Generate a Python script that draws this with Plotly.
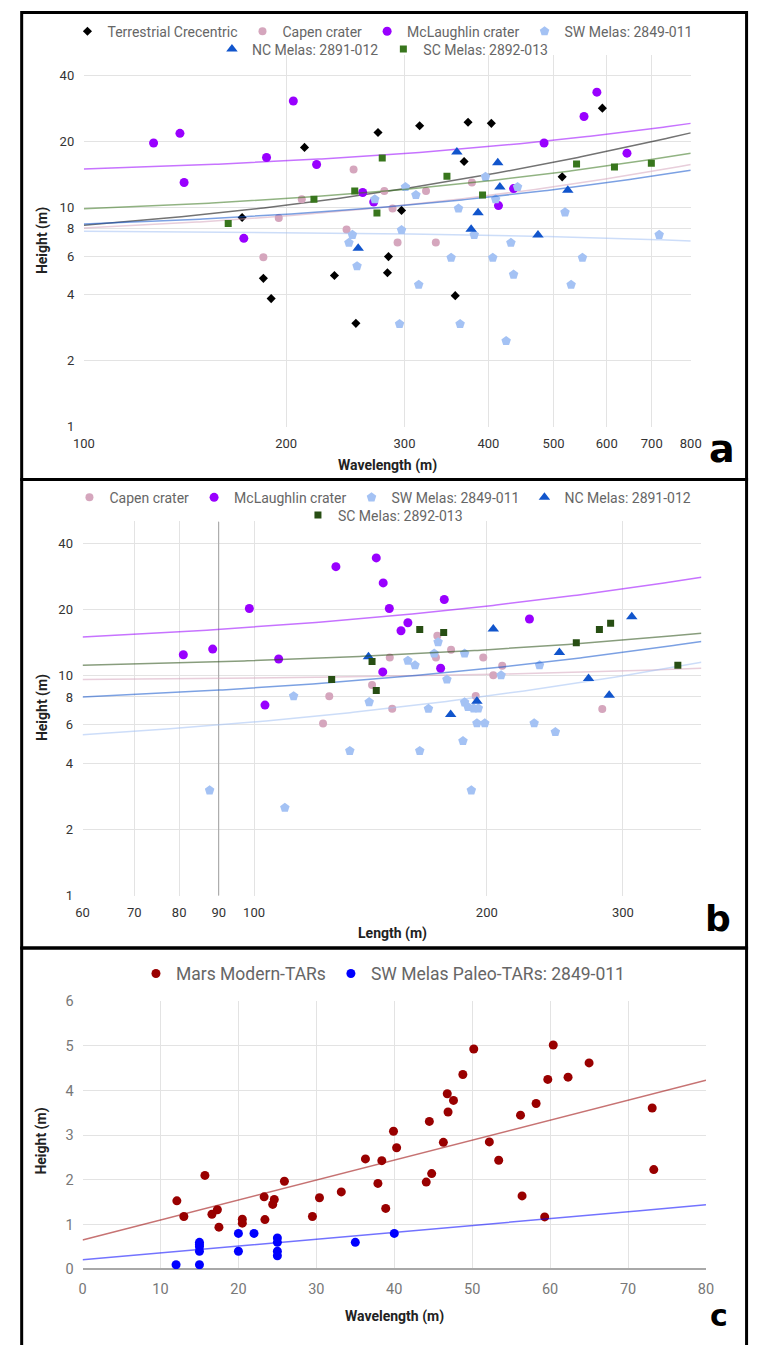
import numpy as np
import plotly.graph_objects as go

W, H = 760, 1345

# ---------------- Panel a : Height vs Wavelength (log-log) ----------------
a_terr_x = [213, 274, 316, 373, 404, 591, 368, 515, 297, 172, 185, 190, 236, 254, 284, 283, 357]
a_terr_y = [18.8, 22.0, 23.6, 24.5, 24.2, 28.4, 16.2, 13.8, 9.7, 9.0, 4.75, 3.84, 4.89, 2.96, 5.97, 5.04, 3.96]
a_capen_x = [252, 211, 195, 246, 280, 323, 288, 378, 293, 334, 185]
a_capen_y = [14.9, 10.9, 8.95, 7.94, 11.9, 11.9, 9.9, 13.0, 6.93, 6.93, 5.93]
a_mcl_x = [127, 139, 141, 205, 187, 222, 260, 270, 173, 484, 555, 580, 643, 414, 436]
a_mcl_y = [19.7, 21.8, 13.0, 30.6, 16.9, 15.7, 11.7, 10.6, 7.23, 19.7, 26.0, 33.6, 17.7, 10.2, 12.2]
a_sw_x = [301, 312, 271, 361, 297, 251, 248, 255, 352, 315, 295, 363, 396, 410, 442, 520,
          381, 432, 718, 406, 436, 425, 531, 552]
a_sw_y = [12.4, 11.4, 10.9, 9.9, 7.9, 7.5, 6.9, 5.4, 5.9, 4.44, 2.94, 2.94, 13.8, 10.9, 12.4, 9.5,
          7.5, 6.9, 7.5, 5.9, 4.94, 2.46, 4.44, 5.9]
a_nc_x = [359, 413, 416, 525, 386, 377, 474, 256]
a_nc_y = [17.9, 16.0, 12.4, 12.0, 9.46, 7.96, 7.48, 6.52]
a_sc_x = [164, 220, 253, 273, 278, 347, 392, 541, 616, 699]
a_sc_y = [8.45, 10.9, 11.9, 9.43, 16.8, 13.9, 11.4, 15.8, 15.3, 15.9]
a_xticks = [100, 200, 300, 400, 500, 600, 700, 800]
a_range_x = [100, 800]
# linear trendlines, read at the two x-axis ends (terr, capen, mcl, sw, nc, sc)
a_trend_left = [8.3, 8.06, 15.0, 7.8, 8.4, 9.86]
a_trend_right = [21.9, 15.7, 24.2, 7.03, 14.8, 17.7]

# ---------------- Panel b : Height vs Length (log-log) ----------------
b_capen_x = [172.6, 179.8, 149.8, 171.9, 197.9, 209.4, 203.9, 142.1, 125.1, 150.9, 193.5, 122.8, 282.1]
b_capen_y = [15.2, 13.1, 12.1, 12.1, 12.1, 11.1, 10.05, 9.07, 8.07, 7.07, 8.09, 6.06, 7.05]
b_mcl_x = [81.0, 88.4, 98.6, 107.6, 103.3, 127.6, 143.9, 146.9, 149.6, 158.1, 154.9, 146.7, 176.2, 174.3, 227.1]
b_mcl_y = [12.45, 13.2, 20.2, 11.9, 7.35, 31.3, 34.3, 26.4, 20.2, 17.4, 16.0, 10.4, 22.2, 10.8, 18.1]
b_sw_x = [112.5, 140.9, 158.1, 161.5, 171.0, 173.0, 187.2, 177.6, 208.7, 234.0, 168.1, 187.2, 189.1,
          192.3, 195.0, 194.2, 198.8, 230.3, 245.3, 186.3, 133.0, 163.8, 191.0, 87.6, 109.6]
b_sw_y = [8.07, 7.58, 11.7, 11.15, 12.6, 14.2, 12.6, 9.6, 10.05, 11.15, 7.07, 7.56, 7.2,
          7.1, 7.1, 6.08, 6.08, 6.08, 5.54, 5.05, 4.55, 4.55, 3.01, 3.01, 2.51]
b_nc_x = [140.6, 203.9, 248.3, 194.2, 179.6, 270.8, 288.0, 308.0]
b_nc_y = [12.2, 16.3, 12.75, 7.64, 6.65, 9.71, 8.15, 18.5]
b_sc_x = [163.8, 175.9, 142.1, 126.0, 143.9, 261.1, 279.7, 289.2, 353.3]
b_sc_y = [16.2, 15.7, 11.6, 9.6, 8.55, 14.1, 16.2, 17.3, 11.15]
b_xticks = [60, 70, 80, 90, 100, 200, 300]
b_range_x = [60, 379]
# (capen, mcl, sw, nc, sc)
b_trend_left = [9.6, 15.0, 5.39, 8.0, 11.15]
b_trend_right = [10.8, 28.0, 11.5, 14.3, 15.6]

# ---------------- Panel c : Height vs Wavelength (linear) ----------------
c_mars_x = [12.1, 13.0, 15.7, 16.6, 17.3, 17.5, 20.5, 20.5, 23.3, 23.4, 24.6, 24.4, 25.9, 29.5, 30.4,
            33.2, 36.3, 38.4, 37.9, 38.9, 39.9, 40.3, 50.2, 48.8, 46.8, 47.6, 46.9, 44.5, 46.3, 44.8,
            44.1, 52.2, 53.4, 56.2, 58.2, 56.4, 59.3, 59.7, 60.4, 62.3, 65.0, 73.1, 73.3]
c_mars_y = [1.53, 1.18, 2.10, 1.23, 1.33, 0.94, 1.12, 1.03, 1.62, 1.11, 1.56, 1.45, 1.97, 1.18, 1.60,
            1.73, 2.47, 2.43, 1.92, 1.36, 3.09, 2.72, 4.93, 4.36, 3.93, 3.78, 3.52, 3.31, 2.84, 2.14,
            1.95, 2.85, 2.44, 3.45, 3.71, 1.64, 1.17, 4.25, 5.02, 4.30, 4.62, 3.61, 2.23]
c_sw_x = [12, 15, 15, 15, 15, 15, 20, 20, 22, 25, 25, 25, 25, 35, 40]
c_sw_y = [0.1, 0.1, 0.4, 0.5, 0.55, 0.6, 0.8, 0.4, 0.8, 0.7, 0.6, 0.4, 0.3, 0.6, 0.8]
c_range_x = [0, 80]
# (mars, sw paleo)
c_trend_left = [0.655, 0.21]
c_trend_right = [4.23, 1.44]

# colours
COL = dict(terr="#000000", capen="#d5a6bd", mcl="#9900ff", sw="#a4c2f4", nc="#1155cc",
           sc_a="#38761d", sc_b="#274e13", mars="#990000", swp="#0000ff")

fig = go.Figure()


def trend(lo, hi, yl, yr, log):
    xs = np.logspace(np.log10(lo), np.log10(hi), 200) if log else np.linspace(lo, hi, 200)
    return xs, yl + (yr - yl) * (xs - lo) / (hi - lo)


def add_series(name, x, y, color, symbol, size, xa, ya, legend, rng, yl, yr, log):
    tx, ty = trend(rng[0], rng[1], yl, yr, log)
    fig.add_trace(go.Scatter(x=tx, y=ty, mode="lines", line=dict(color=color, width=1.5),
                             opacity=0.55, xaxis=xa, yaxis=ya, showlegend=False, hoverinfo="skip"))
    fig.add_trace(go.Scatter(x=x, y=y, mode="markers", name=name, legend=legend,
                             marker=dict(color=color, symbol=symbol, size=size, line=dict(width=0)),
                             xaxis=xa, yaxis=ya))


# panel a
a_series = [
    ("Terrestrial Crecentric", a_terr_x, a_terr_y, COL["terr"], "diamond", 7, "legend"),
    ("Capen crater", a_capen_x, a_capen_y, COL["capen"], "circle", 8, "legend"),
    ("McLaughlin crater", a_mcl_x, a_mcl_y, COL["mcl"], "circle", 9, "legend"),
    ("SW Melas: 2849-011", a_sw_x, a_sw_y, COL["sw"], "pentagon", 10, "legend"),
    ("NC Melas: 2891-012", a_nc_x, a_nc_y, COL["nc"], "triangle-up", 10, "legend2"),
    ("SC Melas: 2892-013", a_sc_x, a_sc_y, COL["sc_a"], "square", 7, "legend2"),
]
for i, (n, x, y, c, s, sz, lg) in enumerate(a_series):
    add_series(n, x, y, c, s, sz, "x", "y", lg, a_range_x, a_trend_left[i], a_trend_right[i], True)

# panel b : darker 90 m line
fig.add_trace(go.Scatter(x=[b_xticks[3], b_xticks[3]], y=[1, 50], mode="lines", xaxis="x2", yaxis="y2",
                         line=dict(color="#a0a0a0", width=1), showlegend=False, hoverinfo="skip"))
b_series = [
    ("Capen crater", b_capen_x, b_capen_y, COL["capen"], "circle", 8, "legend3"),
    ("McLaughlin crater", b_mcl_x, b_mcl_y, COL["mcl"], "circle", 9, "legend3"),
    ("SW Melas: 2849-011", b_sw_x, b_sw_y, COL["sw"], "pentagon", 10, "legend3"),
    ("NC Melas: 2891-012", b_nc_x, b_nc_y, COL["nc"], "triangle-up", 10, "legend3"),
    ("SC Melas: 2892-013", b_sc_x, b_sc_y, COL["sc_b"], "square", 7, "legend4"),
]
for i, (n, x, y, c, s, sz, lg) in enumerate(b_series):
    add_series(n, x, y, c, s, sz, "x2", "y2", lg, b_range_x, b_trend_left[i], b_trend_right[i], True)

# panel c
c_series = [
    ("Mars Modern-TARs", c_mars_x, c_mars_y, COL["mars"], "circle", 9, "legend5"),
    ("SW Melas Paleo-TARs: 2849-011", c_sw_x, c_sw_y, COL["swp"], "circle", 9, "legend5"),
]
for i, (n, x, y, c, s, sz, lg) in enumerate(c_series):
    add_series(n, x, y, c, s, sz, "x3", "y3", lg, c_range_x, c_trend_left[i], c_trend_right[i], False)

FONT = "Roboto, Arial, sans-serif"
GRID = "#e3e3e3"
tickfont_ab = dict(family=FONT, size=13, color="#333333")
tickfont_c = dict(family=FONT, size=14.5, color="#777777")


def px_x(p):
    return p / W


def px_y(p):
    return 1 - p / H


def legend(ycen, xcen=0.504, size=14):
    return dict(orientation="h", x=xcen, xanchor="center", y=ycen, yanchor="middle",
                font=dict(family=FONT, size=size, color="#666666"), bgcolor="rgba(0,0,0,0)",
                itemwidth=30, tracegroupgap=0, itemclick=False)


logax = dict(type="log", showgrid=True, gridcolor=GRID, gridwidth=1, zeroline=False, showline=False,
             ticks="outside", tickcolor="rgba(0,0,0,0)", tickfont=tickfont_ab)
ylog_ticks = [1, 2, 4, 6, 8, 10, 20, 40]

fig.update_layout(
    width=W, height=H, margin=dict(l=0, r=0, t=0, b=0),
    paper_bgcolor="white", plot_bgcolor="white",
    font=dict(family=FONT),
    xaxis=dict(logax, domain=[px_x(75), px_x(700)], anchor="y",
               range=[np.log10(a_range_x[0]), np.log10(a_range_x[1])],
               tickvals=a_xticks, ticktext=[str(v) for v in a_xticks], ticklen=5),
    yaxis=dict(logax, domain=[px_y(424), px_y(48)], anchor="x", range=[0, 1.694],
               tickvals=ylog_ticks, ticktext=[str(v) for v in ylog_ticks], ticklen=6),
    xaxis2=dict(logax, domain=[px_x(73.7), px_x(711)], anchor="y2",
                range=[np.log10(b_range_x[0]), np.log10(b_range_x[1])],
                tickvals=b_xticks, ticktext=[str(v) for v in b_xticks], ticklen=5),
    yaxis2=dict(logax, domain=[px_y(899), px_y(520)], anchor="x2", range=[0, 1.701],
                tickvals=ylog_ticks, ticktext=[str(v) for v in ylog_ticks], ticklen=6),
    xaxis3=dict(domain=[px_x(73.7), px_x(715.7)], anchor="y3", range=c_range_x, dtick=10,
                showgrid=True, gridcolor=GRID, zeroline=False, ticks="outside", tickcolor="rgba(0,0,0,0)",
                ticklen=6, tickfont=tickfont_c),
    yaxis3=dict(domain=[px_y(1277.3), px_y(1006)], anchor="x3", range=[0, 6], dtick=1,
                showgrid=True, gridcolor=GRID, zeroline=True, zerolinecolor="#a8a8a8", zerolinewidth=1.5,
                ticks="outside", tickcolor="rgba(0,0,0,0)", ticklen=5, tickfont=tickfont_c),
    legend=legend(px_y(24)),
    legend2=legend(px_y(42)),
    legend3=legend(px_y(496)),
    legend4=legend(px_y(514)),
    legend5=legend(px_y(978), size=17.5),
    showlegend=True,
)

# panel frames
for top, bot in [(4.5, 477.5), (477.5, 952), (952, 1360)]:
    fig.add_shape(type="rect", xref="paper", yref="paper", x0=px_x(11), x1=px_x(757.5),
                  y0=px_y(bot), y1=px_y(top), line=dict(color="black", width=3), fillcolor="rgba(0,0,0,0)")

title_font = dict(family=FONT, size=14, color="#222222")
annots = [
    ("Wavelength (m)", 387.5, 463, 0),
    ("Height (m)", 32, 236, -90),
    ("Length (m)", 392.5, 937, 0),
    ("Height (m)", 32, 709, -90),
    ("Wavelength (m)", 394.7, 1325, 0),
    ("Height (m)", 31, 1148, -90),
]
for txt, x, y, ang in annots:
    fig.add_annotation(text="<b>%s</b>" % txt, x=px_x(x), y=px_y(y), xref="paper", yref="paper",
                       showarrow=False, textangle=ang, xanchor="center", yanchor="middle", font=title_font)

for letter, x, y, s in [("a", 732, 447, 38), ("b", 728, 922, 36), ("c", 729, 1324, 30)]:
    fig.add_annotation(text="<b>%s</b>" % letter, x=px_x(x), y=px_y(y), xref="paper", yref="paper",
                       showarrow=False, xanchor="center", yanchor="middle", borderpad=0,
                       font=dict(family="DejaVu Sans, Arial Black, sans-serif", size=s, color="black"))

fig.write_html("out.html")
